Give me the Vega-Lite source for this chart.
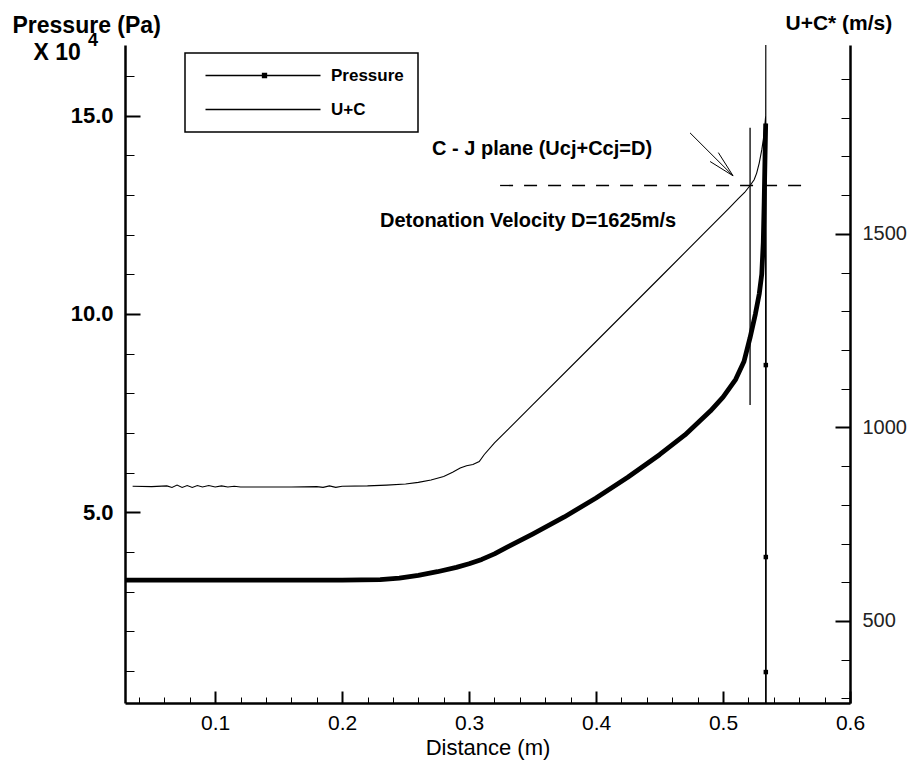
{
  "$schema": "https://vega.github.io/schema/vega-lite/v6.json",
  "width": 725,
  "height": 658,
  "autosize": {"type": "none"},
  "padding": {"left": 125, "top": 45, "right": 70, "bottom": 64},
  "background": "white",
  "title": {"text": "4", "anchor": "start", "frame": "group", "offset": 0, "dx": -37, "dy": 52, "fontSize": 18, "fontWeight": "bold", "font": "Liberation Sans", "color": "black", "baseline": "alphabetic"},
  "config": {
    "view": {"stroke": null},
    "axis": {"domainColor": "black", "tickColor": "black", "labelColor": "black", "titleColor": "black", "grid": false, "labelFlush": false, "labelOverlap": false, "labelBound": false, "domainWidth": 2.5, "ticks": true}
  },
  "encoding": {
    "x": {
      "field": "d", "type": "quantitative",
      "scale": {"domain": [0.029, 0.6], "nice": false, "zero": false},
      "axis": {
        "values": [0.04,0.06,0.08,0.1,0.12,0.14,0.16,0.18,0.2,0.22,0.24,0.26,0.28,0.3,0.32,0.34,0.36,0.38,0.4,0.42,0.44,0.46,0.48,0.5,0.52,0.54,0.56,0.58,0.6],
        "labelExpr": "abs(datum.value*10 - round(datum.value*10)) < 0.001 ? format(datum.value, '.1f') : ''",
        "title": "Distance (m)",
        "titleFont": "Liberation Sans Narrow, Liberation Sans",
        "titleFontSize": 22, "titleFontWeight": "normal", "titleBaseline": "alphabetic", "titleY": 51,
        "labelFont": "Liberation Sans Narrow, Liberation Sans", "labelFontSize": 21,
        "tickSize": {"expr": "abs(datum.value*10 - round(datum.value*10)) < 0.001 ? -12 : -6"},
        "tickWidth": {"expr": "abs(datum.value*10 - round(datum.value*10)) < 0.001 ? 2 : 1"},
        "labelPadding": 21
      }
    }
  },
  "layer": [
    {
      "encoding": {
        "y": {
          "field": "p", "type": "quantitative",
          "scale": {"domain": [0.19, 16.78], "nice": false, "zero": false},
          "axis": {
            "orient": "left",
            "values": [1,2,3,4,5,6,7,8,9,10,11,12,13,14,15,16],
            "labelExpr": "datum.value % 5 === 0 ? format(datum.value, '.1f') : ''",
            "title": "Pressure (Pa)",
            "titleAngle": 0, "titleAlign": "left", "titleBaseline": "top", "titleX": -113, "titleY": -31,
            "titleFont": "Liberation Sans", "titleFontSize": 23, "titleFontWeight": "bold",
            "labelFont": "Liberation Sans", "labelFontSize": 22, "labelFontWeight": "bold",
            "tickSize": {"expr": "datum.value % 5 === 0 ? -15 : -9"},
            "tickWidth": {"expr": "datum.value % 5 === 0 ? 2 : 1"},
            "labelPadding": 27
          }
        }
      },
      "layer": [
        {
          "data": {"values": [
            {"d": 0.029, "p": 3.29}, {"d": 0.1, "p": 3.29}, {"d": 0.2, "p": 3.29}, {"d": 0.23, "p": 3.3},
            {"d": 0.245, "p": 3.34}, {"d": 0.26, "p": 3.41}, {"d": 0.275, "p": 3.5}, {"d": 0.29, "p": 3.61},
            {"d": 0.3, "p": 3.7}, {"d": 0.31, "p": 3.81}, {"d": 0.32, "p": 3.95}, {"d": 0.33, "p": 4.12},
            {"d": 0.35, "p": 4.45}, {"d": 0.375, "p": 4.88}, {"d": 0.4, "p": 5.36}, {"d": 0.425, "p": 5.88},
            {"d": 0.45, "p": 6.45}, {"d": 0.47, "p": 6.95}, {"d": 0.49, "p": 7.55}, {"d": 0.5, "p": 7.9},
            {"d": 0.51, "p": 8.35}, {"d": 0.5165, "p": 8.8}, {"d": 0.5213, "p": 9.4}, {"d": 0.5255, "p": 10.0},
            {"d": 0.5285, "p": 10.5}, {"d": 0.5305, "p": 11.0}, {"d": 0.5317, "p": 11.8}, {"d": 0.5324, "p": 12.8},
            {"d": 0.5331, "p": 14.0}, {"d": 0.5336, "p": 14.8}
          ]},
          "mark": {"type": "line", "strokeWidth": 4.8, "clip": true, "strokeJoin": "round"},
          "encoding": {
            "color": {
              "datum": "Pressure", "type": "nominal",
              "scale": {"domain": ["Pressure", "U+C"], "range": ["black", "black"]},
              "legend": {
                "orient": "none", "legendX": 60, "legendY": 8, "title": null,
                "symbolSize": 100, "symbolStrokeWidth": 1.3,
                "labelFont": "Liberation Sans", "labelFontSize": 17, "labelFontWeight": "bold", "labelColor": "black",
                "labelOffset": 115, "rowPadding": 16, "padding": 14,
                "strokeColor": "black",
                "labelExpr": "datum.label + '\u00a0\u00a0\u00a0\u00a0\u00a0\u00a0'",
                "encode": {
                  "symbols": {"update": {
                    "shape": {"signal": "datum.value === 'Pressure' ? 'M-0.4,0H22.6M11,-0.4h0.8v0.8h-0.8z' : 'M-0.4,0H22.6'"},
                    "fill": {"value": "black"},
                    "stroke": {"value": "black"}
                  }},
                  "legend": {"update": {"strokeWidth": {"value": 1.5}}}
                }
              }
            }
          }
        },
        {
          "data": {"values": [
            {"d": 0.5336, "p": 14.8}, {"d": 0.5337, "p": 8.71}, {"d": 0.5337, "p": 3.87}, {"d": 0.5337, "p": 0.97}, {"d": 0.5337, "p": -1}
          ]},
          "mark": {"type": "line", "strokeWidth": 1.5, "clip": true, "color": "black"},
          "encoding": {"order": {"value": null}}
        },
        {
          "data": {"values": [
            {"d": 0.5337, "p": 8.71}, {"d": 0.5337, "p": 3.87}, {"d": 0.5337, "p": 0.97}
          ]},
          "mark": {"type": "square", "size": 20, "color": "black", "opacity": 1, "filled": true}
        }
      ]
    },
    {
      "encoding": {
        "x": {
          "field": "d", "type": "quantitative",
          "scale": {"domain": [0.029, 0.6], "nice": false, "zero": false},
          "axis": {
            "orient": "top", "domain": false, "ticks": false, "labels": false,
            "title": "X 10",
            "titleAngle": 0, "titleAlign": "left", "titleBaseline": "top", "titleX": -92, "titleY": -4,
            "titleFont": "Liberation Sans", "titleFontSize": 23, "titleFontWeight": "bold", "titleColor": "black"
          }
        },
        "y": {
          "field": "v", "type": "quantitative",
          "scale": {"domain": [288, 1988], "nice": false, "zero": false},
          "axis": {
            "orient": "right",
            "values": [300,400,500,600,700,800,900,1000,1100,1200,1300,1400,1500,1600,1700,1800,1900],
            "labelExpr": "datum.value % 500 === 0 ? format(datum.value, 'd') : ''",
            "title": "U+C* (m/s)",
            "titleAngle": 0, "titleAlign": "left", "titleBaseline": "top", "titleX": -65, "titleY": -33,
            "titleFont": "Liberation Sans", "titleFontSize": 21, "titleFontWeight": "bold",
            "labelFont": "Liberation Sans", "labelFontSize": 20, "labelFontWeight": "normal", "labelColor": "#222",
            "tickSize": {"expr": "datum.value % 500 === 0 ? -15 : -9"},
            "tickWidth": {"expr": "datum.value % 500 === 0 ? 2 : 1"},
            "labelPadding": 27
          }
        }
      },
      "layer": [
        {
          "data": {"values": [
            {"d": 0.035, "v": 848}, {"d": 0.05, "v": 847}, {"d": 0.062, "v": 849}, {"d": 0.066, "v": 845},
            {"d": 0.07, "v": 851}, {"d": 0.074, "v": 845}, {"d": 0.078, "v": 850}, {"d": 0.082, "v": 845},
            {"d": 0.086, "v": 850}, {"d": 0.09, "v": 846}, {"d": 0.095, "v": 850}, {"d": 0.1, "v": 846},
            {"d": 0.105, "v": 849}, {"d": 0.11, "v": 846}, {"d": 0.115, "v": 848}, {"d": 0.12, "v": 846},
            {"d": 0.14, "v": 846}, {"d": 0.16, "v": 846}, {"d": 0.18, "v": 847}, {"d": 0.185, "v": 845},
            {"d": 0.19, "v": 849}, {"d": 0.195, "v": 845}, {"d": 0.2, "v": 848}, {"d": 0.22, "v": 849},
            {"d": 0.235, "v": 851}, {"d": 0.25, "v": 854}, {"d": 0.26, "v": 858}, {"d": 0.27, "v": 864},
            {"d": 0.28, "v": 873}, {"d": 0.287, "v": 884}, {"d": 0.293, "v": 895}, {"d": 0.298, "v": 901},
            {"d": 0.303, "v": 904}, {"d": 0.308, "v": 912}, {"d": 0.312, "v": 930}, {"d": 0.32, "v": 960},
            {"d": 0.35, "v": 1058}, {"d": 0.4, "v": 1222}, {"d": 0.45, "v": 1386}, {"d": 0.484, "v": 1498},
            {"d": 0.505, "v": 1567}, {"d": 0.512, "v": 1591}, {"d": 0.517, "v": 1607}, {"d": 0.5213, "v": 1625},
            {"d": 0.5245, "v": 1640}, {"d": 0.5265, "v": 1657}, {"d": 0.5285, "v": 1683}, {"d": 0.5305, "v": 1717},
            {"d": 0.5318, "v": 1745}, {"d": 0.5326, "v": 1770}, {"d": 0.5332, "v": 1790}, {"d": 0.5336, "v": 1805},
            {"d": 0.5337, "v": 2100}, {"d": 0.53375, "v": 150}
          ]},
          "mark": {"type": "line", "strokeWidth": 1.1, "clip": true},
          "encoding": {"color": {"datum": "U+C", "type": "nominal"}}
        },
        {
          "data": {"values": [{"d": 0.5213, "v": 1058, "v2": 1774}]},
          "mark": {"type": "rule", "strokeWidth": 1.3, "color": "black"},
          "encoding": {"y2": {"field": "v2"}}
        },
        {
          "data": {"values": [{"d": 0.3244, "d2": 0.567, "v": 1625}]},
          "mark": {"type": "rule", "strokeWidth": 1.3, "strokeDash": [13, 11], "color": "black"},
          "encoding": {"x2": {"field": "d2"}}
        },
        {
          "data": {"values": [
            {"d": 0.474, "v": 1761, "d2": 0.5079, "v2": 1650},
            {"d": 0.4963, "v": 1710, "d2": 0.5079, "v2": 1650},
            {"d": 0.4898, "v": 1687, "d2": 0.5079, "v2": 1650}
          ]},
          "mark": {"type": "rule", "strokeWidth": 1, "color": "black"},
          "encoding": {"x2": {"field": "d2"}, "y2": {"field": "v2"}}
        },
        {
          "data": {"values": [
            {"d": 0.2708, "v": 1720, "label": "C - J plane (Ucj+Ccj=D)"},
            {"d": 0.2298, "v": 1534, "label": "Detonation Velocity D=1625m/s"}
          ]},
          "mark": {"type": "text", "align": "left", "baseline": "middle", "font": "Liberation Sans", "fontSize": 20, "fontWeight": "bold", "color": "black"},
          "encoding": {"text": {"field": "label"}}
        }
      ]
    }
  ],
  "resolve": {"scale": {"y": "independent"}, "axis": {"x": "independent"}}
}
